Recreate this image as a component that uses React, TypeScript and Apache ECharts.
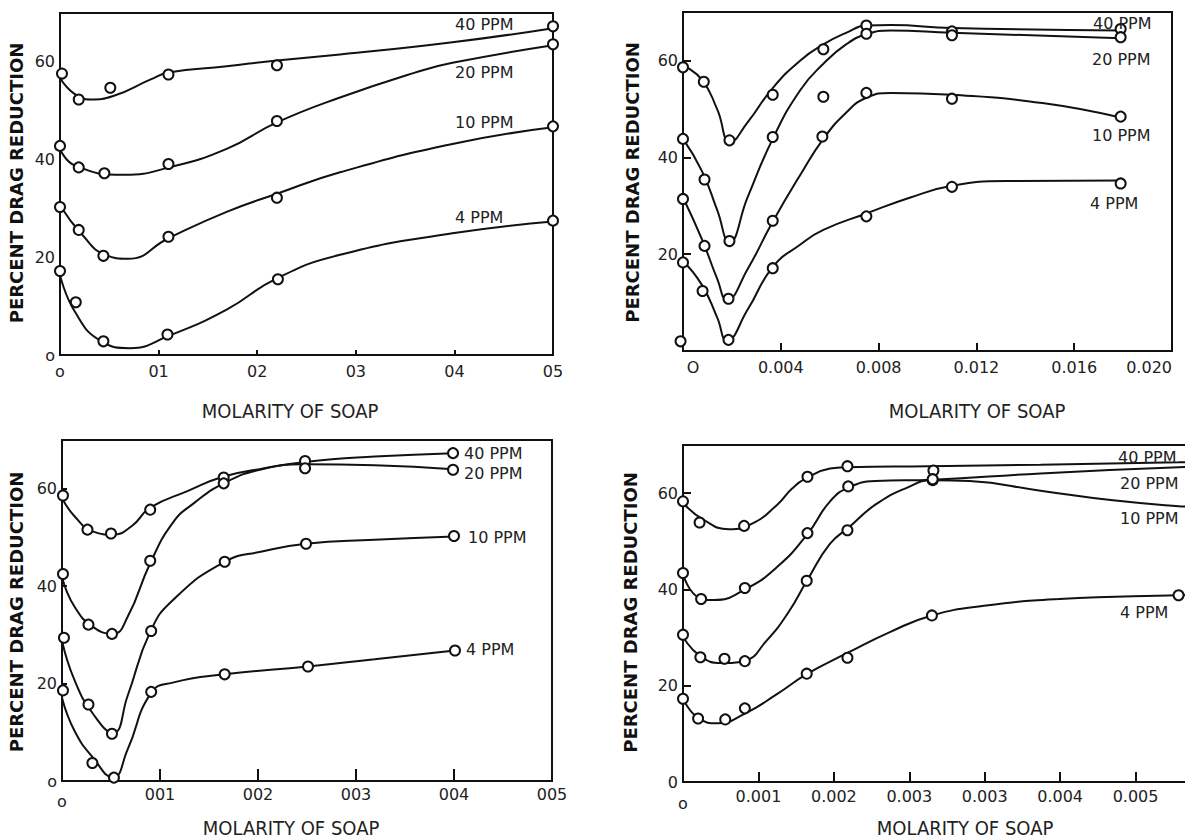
import React, { useEffect, useRef } from 'react';
import * as echarts from 'echarts';

// ---------- tick labels ----------
const xLabels1 = ['o', '01', '02', '03', '04', '05'];
const xLabels3 = ['o', '001', '002', '003', '004', '005'];
const xLabels4 = ['o', '0.001', '0.002', '0.003', '0.003', '0.004', '0.005', ''];
const yLabels1 = ['o', '20', '40', '60'];
const yLabels2 = ['', '20', '40', '60'];
const yLabels3 = ['o', '20', '40', '60'];
const yLabels4 = ['0', '20', '40', '60'];
const seriesNames = ['40 PPM', '20 PPM', '10 PPM', '4 PPM'];

// ---------- panel 1 (top-left) ----------
const p1_40 = [[0.02, 57.6], [0.19, 52.3], [0.51, 54.7], [1.1, 57.4], [2.2, 59.3], [5.0, 67.3]];
const p1_20 = [[0, 42.8], [0.19, 38.4], [0.45, 37.2], [1.1, 39.1], [2.2, 47.9], [5.0, 63.6]];
const p1_10 = [[0, 30.3], [0.19, 25.6], [0.44, 20.3], [1.1, 24.2], [2.2, 32.2], [5.0, 46.8]];
const p1_4 = [[0, 17.2], [0.16, 10.8], [0.44, 2.8], [1.09, 4.2], [2.21, 15.5], [5.0, 27.5]];
const c1_40 = [[0, 56.7], [0.15, 53.4], [0.31, 52.3], [0.54, 53.0], [0.92, 56.4], [1.1, 57.8], [1.69, 59.1], [2.2, 60.3], [2.84, 61.5], [3.98, 64.0], [5, 66.9]];
const c1_20 = [[0, 42.2], [0.15, 38.8], [0.65, 36.9], [1.11, 38.4], [1.69, 42.2], [2.2, 47.6], [2.84, 52.7], [3.6, 57.8], [3.98, 59.8], [5, 63.4]];
const c1_10 = [[0, 30.6], [0.23, 24.5], [0.46, 20.5], [0.69, 19.7], [1.1, 23.9], [1.69, 29.3], [2.2, 33.0], [2.84, 37.4], [3.98, 43.2], [5, 46.6]];
const c1_4 = [[0, 16.4], [0.15, 8.9], [0.42, 2.8], [0.71, 1.4], [1.1, 3.9], [1.69, 9.3], [2.2, 15.7], [2.84, 20.5], [3.98, 24.9], [5, 27.3]];

// ---------- panel 2 (top-right) ----------
const p2_40 = [[0, 58.6], [0.00085, 55.6], [0.0019, 43.5], [0.00367, 52.9], [0.00574, 62.3], [0.0075, 67.2], [0.011, 66.0], [0.0179, 66.5]];
const p2_20 = [[0, 43.8], [0.00088, 35.4], [0.0019, 22.7], [0.00367, 44.2], [0.00574, 52.5], [0.0075, 65.5], [0.011, 65.2], [0.0179, 64.8]];
const p2_10 = [[0, 31.4], [0.00088, 21.7], [0.00186, 10.8], [0.00367, 26.9], [0.0057, 44.3], [0.0075, 53.3], [0.011, 52.1], [0.0179, 48.4]];
const p2_4 = [[-0.0001, 2.0], [0, 18.3], [0.0008, 12.4], [0.00186, 2.3], [0.00367, 17.1], [0.0075, 27.8], [0.011, 33.9], [0.0179, 34.6]];
const c2_40 = [[0, 59.0], [0.00078, 56.0], [0.0014, 49.9], [0.00194, 43.2], [0.00264, 47.2], [0.00367, 54.3], [0.0048, 60.0], [0.00574, 63.3], [0.00667, 65.7], [0.0075, 67.2], [0.0085, 67.3], [0.011, 66.7], [0.0179, 66.2]];
const c2_20 = [[0, 43.8], [0.00078, 37.1], [0.0014, 29.1], [0.0019, 22.5], [0.00264, 31.7], [0.00367, 43.8], [0.0048, 53.9], [0.00574, 59.3], [0.00667, 63.3], [0.0075, 65.4], [0.0085, 66.2], [0.011, 65.7], [0.0179, 64.6]];
const c2_10 = [[0, 31.7], [0.00078, 23.0], [0.0014, 14.9], [0.0018, 10.6], [0.00264, 16.9], [0.00367, 26.7], [0.0048, 36.4], [0.00574, 43.8], [0.00667, 49.2], [0.0075, 52.3], [0.0085, 53.3], [0.011, 52.9], [0.0147, 51.2], [0.0179, 48.2]];
const c2_4 = [[0, 18.6], [0.00078, 13.6], [0.0014, 6.9], [0.0018, 2.2], [0.00264, 8.5], [0.00367, 17.3], [0.0048, 22.0], [0.00574, 25.0], [0.0075, 28.4], [0.0093, 31.7], [0.011, 34.1], [0.0132, 35.1], [0.0179, 35.2]];

// ---------- panel 3 (bottom-left) ----------
const p3_40 = [[0.01, 58.6], [0.26, 51.6], [0.5, 50.8], [0.9, 55.7], [1.65, 62.3], [2.48, 65.7], [3.99, 67.3]];
const p3_20 = [[0.01, 42.5], [0.27, 32.1], [0.51, 30.2], [0.9, 45.2], [1.65, 61.1], [2.48, 64.2], [3.99, 63.9]];
const p3_10 = [[0.02, 29.4], [0.27, 15.7], [0.51, 9.7], [0.91, 30.8], [1.66, 45.0], [2.49, 48.7], [4.0, 50.3]];
const p3_4 = [[0.01, 18.6], [0.31, 3.7], [0.53, 0.7], [0.91, 18.3], [1.66, 21.9], [2.51, 23.5], [4.01, 26.8]];
const c3_40 = [[0, 58.1], [0.13, 54.3], [0.32, 51.2], [0.52, 50.6], [0.71, 52.3], [0.9, 56.1], [1.28, 59.5], [1.65, 62.5], [2.04, 64.1], [2.48, 65.5], [3.19, 66.6], [3.99, 67.3]];
const c3_20 = [[0, 41.9], [0.13, 35.7], [0.32, 31.6], [0.52, 30.2], [0.67, 33.7], [0.9, 44.7], [1.13, 53.0], [1.35, 57.1], [1.66, 61.2], [2.04, 64.0], [2.48, 65.0], [3.19, 64.8], [3.99, 64.0]];
const c3_10 = [[0, 28.8], [0.13, 20.6], [0.32, 13.7], [0.52, 9.9], [0.67, 17.5], [0.9, 30.6], [1.13, 37.1], [1.66, 45.0], [2.04, 47.1], [2.49, 48.7], [3.19, 49.5], [4.0, 50.2]];
const c3_4 = [[0, 17.1], [0.13, 10.2], [0.32, 4.7], [0.52, 0.7], [0.67, 6.5], [0.91, 18.1], [1.13, 20.2], [1.66, 21.9], [2.51, 23.5], [3.19, 25.0], [4.01, 26.8]];

// ---------- panel 4 (bottom-right) ----------
const p4_40 = [[0, 58.3], [0.22, 53.9], [0.81, 53.2], [1.65, 63.4], [2.18, 65.6], [3.32, 64.7]];
const p4_20 = [[0, 43.4], [0.24, 38.0], [0.82, 40.3], [1.65, 51.7], [2.19, 61.4], [3.31, 62.7]];
const p4_10 = [[0, 30.6], [0.23, 25.9], [0.55, 25.6], [0.82, 25.1], [1.64, 41.8], [2.18, 52.3], [3.31, 62.9]];
const p4_4 = [[0, 17.3], [0.2, 13.2], [0.56, 13.0], [0.82, 15.3], [1.64, 22.5], [2.18, 25.8], [3.3, 34.6], [6.57, 38.8]];
const c4_40 = [[0, 58.0], [0.26, 54.6], [0.61, 52.5], [0.91, 53.6], [1.25, 57.6], [1.45, 61.0], [1.65, 63.2], [1.95, 65.1], [2.18, 65.4], [3.25, 65.6], [4.74, 65.9], [6.57, 66.4], [7.2, 66.6]];
const c4_20 = [[0, 43.1], [0.21, 38.3], [0.41, 37.8], [0.82, 40.0], [1.25, 44.7], [1.65, 51.5], [1.95, 58.3], [2.2, 61.2], [2.55, 62.5], [3.31, 62.8], [4.74, 64.1], [6.57, 65.4], [7.2, 65.8]];
const c4_10 = [[0, 30.2], [0.21, 26.4], [0.51, 24.7], [0.82, 25.2], [1.1, 29.2], [1.4, 35.3], [1.65, 42.0], [1.95, 49.5], [2.2, 52.9], [2.55, 57.6], [2.95, 61.0], [3.31, 62.7], [3.8, 62.5], [4.74, 60.5], [5.7, 58.5], [6.57, 57.3], [7.2, 56.8]];
const c4_4 = [[0, 17.3], [0.21, 13.2], [0.46, 12.2], [0.82, 14.2], [1.25, 18.3], [1.65, 22.5], [2.18, 26.8], [2.75, 31.2], [3.3, 34.6], [3.99, 36.6], [4.99, 38.0], [6.57, 38.8], [7.2, 39.0]];

const panelPoints = [
  [p1_40, p1_20, p1_10, p1_4],
  [p2_40, p2_20, p2_10, p2_4],
  [p3_40, p3_20, p3_10, p3_4],
  [p4_40, p4_20, p4_10, p4_4],
];
const panelCurves = [
  [c1_40, c1_20, c1_10, c1_4],
  [c2_40, c2_20, c2_10, c2_4],
  [c3_40, c3_20, c3_10, c3_4],
  [c4_40, c4_20, c4_10, c4_4],
];

const INK = '#111';
const TXT = '#222';
const FONT = "'DejaVu Sans', Verdana, sans-serif";
const COND = "'DejaVu Sans Condensed', 'DejaVu Sans', sans-serif";

function yFmt(labels: string[]) {
  return (v: number) => {
    const i = v / 20;
    return Number.isInteger(i) && labels[i] !== undefined ? labels[i] : '';
  };
}

function buildOption() {
  const grids = [
    { left: 60, top: 13, width: 493, height: 342 },
    { left: 683, top: 12, width: 489, height: 339 },
    { left: 62, top: 440, width: 490, height: 341 },
    { left: 683, top: 445, width: 528, height: 337 },
  ].map((g) => ({
    ...g, show: true, borderColor: INK, borderWidth: 2, backgroundColor: 'transparent',
    containLabel: false, outerBoundsMode: 'none',
  }));

  const axisLine = { show: true, onZero: false, lineStyle: { color: INK, width: 2 } };
  const lbl = { color: TXT, fontSize: 16, fontFamily: FONT };

  const xAxes = [
    {
      gridIndex: 0, type: 'value', min: 0, max: 5, interval: 1,
      axisLine, splitLine: { show: false },
      axisTick: { show: true, inside: true, length: 5, lineStyle: { color: INK, width: 2 } },
      axisLabel: { ...lbl, margin: 8, formatter: (v: number) => xLabels1[v] ?? '' },
    },
    {
      gridIndex: 1, type: 'value', min: 0, max: 0.02, interval: 0.004,
      axisLine, splitLine: { show: false },
      axisTick: { show: true, inside: true, length: 8, lineStyle: { color: INK, width: 2 } },
      axisLabel: {
        ...lbl, margin: 8, alignMaxLabel: 'right',
        formatter: (v: number) => (v === 0 ? '{z|O}' : v.toFixed(3)),
        rich: { z: { ...lbl, padding: [0, 0, 0, 20] } },
      },
    },
    {
      gridIndex: 2, type: 'value', min: 0, max: 5, interval: 1,
      axisLine, splitLine: { show: false },
      axisTick: { show: true, inside: true, length: 12, lineStyle: { color: INK, width: 2 } },
      axisLabel: {
        ...lbl, margin: 5,
        formatter: (v: number) => (v === 0 ? '{z|o}' : xLabels3[v] ?? ''),
        rich: { z: { ...lbl, padding: [7, 0, 0, 0] } },
      },
    },
    {
      gridIndex: 3, type: 'value', min: 0, max: 7, interval: 1,
      axisLine, splitLine: { show: false },
      axisTick: { show: true, inside: true, length: 10, lineStyle: { color: INK, width: 2 } },
      axisLabel: {
        ...lbl, margin: 6,
        formatter: (v: number) => (v === 0 ? '{z|o}' : xLabels4[v] ?? ''),
        rich: { z: { ...lbl, padding: [7, 0, 0, 0] } },
      },
    },
  ];

  const yAxes = [
    { labels: yLabels1, tick: 0 },
    { labels: yLabels2, tick: 8 },
    { labels: yLabels3, tick: 5 },
    { labels: yLabels4, tick: 8 },
  ].map((a, i) => ({
    gridIndex: i, type: 'value', min: 0, max: 70, interval: 20,
    axisLine, splitLine: { show: false },
    axisTick: { show: a.tick > 0, inside: true, length: a.tick, lineStyle: { color: INK, width: 2 } },
    axisLabel: { ...lbl, margin: 5, formatter: yFmt(a.labels) },
  }));

  const series: any[] = [];
  for (let p = 0; p < 4; p++) {
    for (let s = 0; s < 4; s++) {
      series.push({
        name: seriesNames[s], type: 'line', xAxisIndex: p, yAxisIndex: p,
        data: panelCurves[p][s], smooth: 0.5, symbol: 'none', showSymbol: false,
        lineStyle: { color: INK, width: 2 }, silent: true, z: 2,
      });
      series.push({
        name: seriesNames[s], type: 'scatter', xAxisIndex: p, yAxisIndex: p,
        data: panelPoints[p][s], symbol: 'circle', symbolSize: 10, clip: false,
        itemStyle: { color: '#fff', borderColor: INK, borderWidth: 2, opacity: 1 }, z: 3, silent: true,
      });
    }
  }

  const ppm = (text: string, x: number, y: number) => ({
    type: 'text', x, y, z: 10, silent: true,
    style: { text, fill: TXT, font: `16px ${FONT}`, textAlign: 'left', textVerticalAlign: 'middle', align: 'left', verticalAlign: 'middle' },
  });
  const yTitle = (x: number, y: number) => ({
    type: 'text', x, y, rotation: Math.PI / 2, z: 10, silent: true,
    style: { text: 'PERCENT DRAG REDUCTION', fill: '#111', font: `bold 18px ${FONT}`, textAlign: 'center', textVerticalAlign: 'middle', align: 'center', verticalAlign: 'middle' },
  });
  const xTitle = (x: number, y: number) => ({
    type: 'text', x, y, z: 10, silent: true,
    style: { text: 'MOLARITY OF SOAP', fill: TXT, font: `20px ${COND}`, textAlign: 'center', textVerticalAlign: 'middle', align: 'center', verticalAlign: 'middle' },
  });

  const graphic = [
    yTitle(16.5, 183), yTitle(632.5, 182.5), yTitle(16, 612), yTitle(630.5, 612.5),
    xTitle(290, 411), xTitle(977, 411), xTitle(291, 828), xTitle(965, 828),
    ppm('40 PPM', 455, 24), ppm('20 PPM', 455, 72), ppm('10 PPM', 455, 122), ppm('4 PPM', 455, 217),
    ppm('40 PPM', 1093, 23), ppm('20 PPM', 1092, 59), ppm('10 PPM', 1092, 135), ppm('4 PPM', 1090, 203),
    ppm('40 PPM', 464, 453), ppm('20 PPM', 464, 473), ppm('10 PPM', 468, 537), ppm('4 PPM', 466, 649),
    ppm('40 PPM', 1118, 457), ppm('20 PPM', 1120, 483), ppm('10 PPM', 1120, 518), ppm('4 PPM', 1120, 612),
  ];

  return {
    animation: false,
    backgroundColor: '#fff',
    grid: grids,
    xAxis: xAxes,
    yAxis: yAxes,
    series,
    graphic,
  };
}

export default function App() {
  const ref = useRef<HTMLDivElement>(null);
  useEffect(() => {
    if (!ref.current) return;
    const chart = echarts.init(ref.current, null, { renderer: 'svg' });
    chart.setOption(buildOption() as any);
    return () => chart.dispose();
  }, []);
  return (
    <div
      ref={ref}
      style={{ position: 'absolute', left: 0, top: 0, width: 1185, height: 839, background: '#fff' }}
    />
  );
}
